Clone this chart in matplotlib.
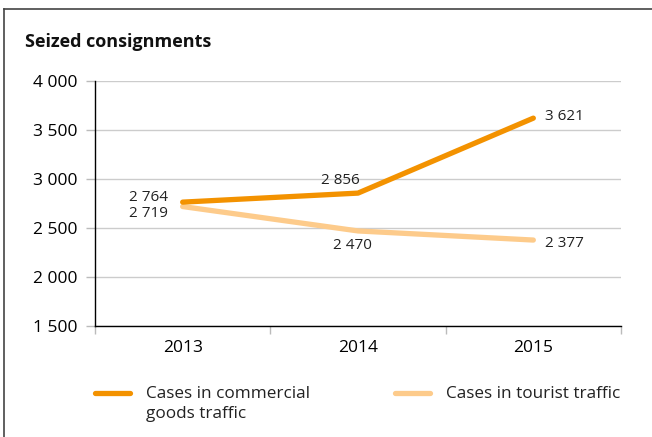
import matplotlib
matplotlib.use('Agg')
import matplotlib.pyplot as plt
from matplotlib.lines import Line2D

plt.rcParams['font.family'] = ['Open Sans', 'DejaVu Sans']

# ---- Data ----
years = ['2013', '2014', '2015']
commercial = [2764, 2856, 3621]
tourist = [2719, 2470, 2377]
series_names = ['Cases in commercial\ngoods traffic', 'Cases in tourist traffic']

# label offsets in pixels (dx, dy)
commercial_offsets = [(-15, 5), (-18, 13), (12, 2)]
tourist_offsets = [(-15, -7), (-6, -15), (12, -3)]

orange = '#f39200'
light = '#fdcb8b'

fig = plt.figure(figsize=(6.52, 4.37), dpi=100)
ax = fig.add_axes([95/652, 1-326/437, 526/652, 245/437])

x = list(range(len(years)))
ax.plot(x, tourist, color=light, lw=3.8, solid_capstyle='round', zorder=3)
ax.plot(x, commercial, color=orange, lw=3.8, solid_capstyle='round', zorder=4)

def fmt(v):
    return f'{v:,}'.replace(',', ' ')

for vals, offs in [(commercial, commercial_offsets), (tourist, tourist_offsets)]:
    for i, v in enumerate(vals):
        dx, dy = offs[i]
        if i == 0:
            ha = 'right'
        elif dx > 0:
            ha = 'left'
        else:
            ha = 'center'
        ax.annotate(fmt(v), (i, v), xytext=(dx, dy), textcoords='offset pixels',
                    ha=ha, va='center', fontsize=11, color='#222222')

ax.set_xlim(-0.5, 2.5)
ax.set_ylim(1500, 4000)
yt = [1500, 2000, 2500, 3000, 3500, 4000]
ax.set_yticks(yt)
ax.set_yticklabels([fmt(v) for v in yt], fontsize=12.5)
ax.set_xticks(x)
ax.set_xticklabels(years, fontsize=12.5)
ax.set_xticks([-0.5, 0.5, 1.5, 2.5], minor=True)
ax.tick_params(axis='x', which='major', length=0, pad=10)
ax.tick_params(axis='x', which='minor', length=6, color='#bbbbbb', width=1)
ax.tick_params(axis='y', length=6.5, color='#bbbbbb', width=1, pad=6)
ax.grid(axis='y', color='#cccccc', lw=1)
ax.set_axisbelow(True)
for s in ['top', 'right']:
    ax.spines[s].set_visible(False)
for s in ['left', 'bottom']:
    ax.spines[s].set_color('black')
    ax.spines[s].set_linewidth(1)

fig.text(25/652, 1-42/437, 'Seized consignments', fontsize=13, fontweight='bold',
         va='center', ha='left', color='#111111')

# legend drawn by hand: swatch aligned with first text line
W, H = 652, 437
for (x0, name, col) in [(95, series_names[0], orange), (395, series_names[1], light)]:
    fig.add_artist(Line2D([x0/W, (x0+35)/W], [1-393/H, 1-393/H], color=col, lw=3.8,
                          solid_capstyle='round'))
    fig.text((x0+51)/W, 1-386/H, name, fontsize=12.3, va='top', ha='left',
             color='#222222', linespacing=1.35)

# frame
fig.add_artist(Line2D([4/652, 1], [1-9/437, 1-9/437], color='#444444', lw=1.2))
fig.add_artist(Line2D([4/652, 4/652], [0, 1-9/437], color='#444444', lw=1.2))

fig.savefig('out.png', dpi=100)
